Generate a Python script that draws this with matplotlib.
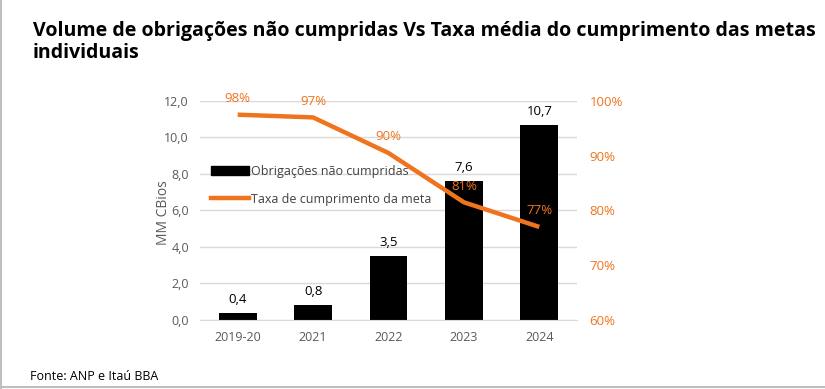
import matplotlib.pyplot as plt
from matplotlib.lines import Line2D

anos = ["2019-20", "2021", "2022", "2023", "2024"]
obrigacoes = [0.4, 0.8, 3.5, 7.6, 10.7]
taxa = [97.5, 97.0, 90.5, 81.5, 77.0]
taxa_rotulos = ["98%", "97%", "90%", "81%", "77%"]

laranja = "#F0741E"
cinza = "#595959"

fig = plt.figure(figsize=(8.25, 3.89), dpi=100)
plt.rcParams['font.family'] = ['Open Sans', 'DejaVu Sans']

ax = fig.add_axes([0.2424, 0.1774, 0.4570, 0.5630])
x = range(len(anos))
ax.bar(x, obrigacoes, width=0.5, color="black", zorder=2)
for xi, v in zip(x, obrigacoes):
    ax.annotate(f"{v:.1f}".replace(".", ","), (xi, v), xytext=(0, 5), textcoords="offset points",
                ha="center", va="bottom", fontsize=9.5, color="black")
ax.set_ylim(0, 12)
ax.set_xlim(-0.5, 4.5)
ax.set_yticks([0, 2, 4, 6, 8, 10, 12])
ax.set_yticklabels([f"{t:.1f}".replace(".", ",") for t in [0, 2, 4, 6, 8, 10, 12]])
ax.set_xticks(list(x))
ax.set_xticklabels(anos)
ax.tick_params(axis="both", length=0, labelsize=9, colors=cinza, pad=8)
ax.grid(axis="y", color="#D9D9D9", lw=1, zorder=0)
for s in ["top", "right", "left"]:
    ax.spines[s].set_visible(False)
ax.spines["bottom"].set_color("#D9D9D9")
ax.set_ylabel("MM CBios", fontsize=10, color=cinza)
ax.yaxis.set_label_coords(-0.078, 0.49)

ax2 = ax.twinx()
ax2.plot(list(x), taxa, color=laranja, lw=3.2, solid_capstyle="butt", zorder=3)
for xi, v, r in zip(x, taxa, taxa_rotulos):
    ax2.annotate(r, (xi, v), xytext=(0, 7), textcoords="offset points",
                 ha="center", va="bottom", fontsize=9.5, color=laranja)
ax2.set_ylim(60, 100)
ax2.set_yticks([60, 70, 80, 90, 100])
ax2.set_yticklabels([f"{t}%" for t in [60, 70, 80, 90, 100]])
ax2.tick_params(axis="y", length=0, labelsize=9.5, colors=laranja, pad=9)
for s in ax2.spines.values():
    s.set_visible(False)

handles = [plt.Rectangle((0, 0), 1, 1, color="black"),
           Line2D([0], [0], color=laranja, lw=3.2)]
ax.legend(handles, ["Obrigações não cumpridas", "Taxa de cumprimento da meta"],
          loc="upper left", bbox_to_anchor=(0.0, 0.76), frameon=False, fontsize=9,
          handlelength=3, handletextpad=0.2, labelspacing=1.2, labelcolor="#404040")

fig.text(0.04, 0.945, "Volume de obrigações não cumpridas Vs Taxa média do cumprimento das metas\nindividuais",
         fontsize=14.1, fontweight="bold", va="top", ha="left", linespacing=1.1)
fig.text(0.036, 0.015, "Fonte: ANP e Itaú BBA", fontsize=9, va="bottom", ha="left")

fig.add_artist(Line2D([0.0012, 0.0012], [0, 1], color="#BFBFBF", lw=1.5, transform=fig.transFigure))
fig.add_artist(Line2D([0, 1], [0.004, 0.004], color="#BFBFBF", lw=1.5, transform=fig.transFigure))

fig.savefig("out.png", dpi=100)
